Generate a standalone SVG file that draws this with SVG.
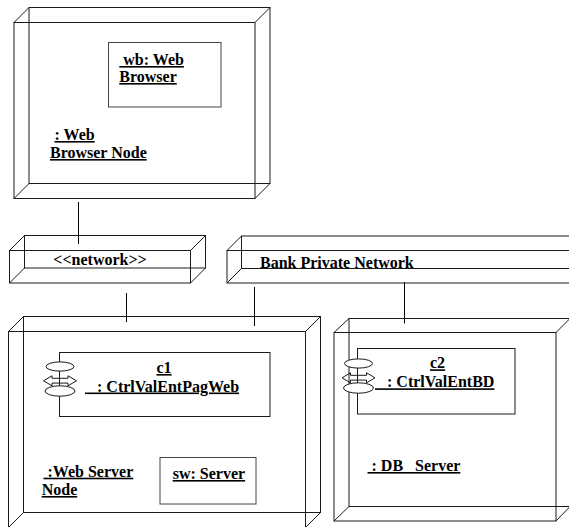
<svg xmlns="http://www.w3.org/2000/svg" xmlns:xlink="http://www.w3.org/1999/xlink" width="569" height="527" viewBox="0 0 569 527">
<style>
  .edge { fill: none; stroke: #1a1a1a; stroke-width: 1; }
  .inner { fill: none; stroke: #444; stroke-width: 1; }
  .conn { fill: none; stroke: #000; stroke-width: 1; }
  .lbl { font-family: "Liberation Serif", "Times New Roman", serif; font-weight: bold; font-size: 16px; fill: #000; }
  .u { text-decoration: underline; }
  .icon-fill { fill: #fff; stroke: #1a1a1a; stroke-width: 1; }
  .icon-line { fill: none; stroke: #1a1a1a; stroke-width: 1; }
</style>
<defs>
  <g id="compIcon">
    <ellipse class="icon-fill" cx="0" cy="0" rx="14" ry="4.6"/>
    <polygon class="icon-line" points="-16.5,14.3 -8,9.3 -8,11.8 8,11.8 8,9.3 16.5,14.3 8,19.3 8,16.6 -8,16.6 -8,19.3"/>
    <ellipse class="icon-fill" cx="0" cy="24.5" rx="15" ry="5.2"/>
  </g>
</defs>
<rect width="569" height="527" fill="#fff"/>

<g id="connectors">
  <line class="conn" x1="78.5" y1="202" x2="78.5" y2="244"/>
  <line class="conn" x1="126.5" y1="293" x2="126.5" y2="322"/>
  <line class="conn" x1="254.5" y1="287" x2="254.5" y2="326"/>
  <line class="conn" x1="404.5" y1="282" x2="404.5" y2="323.5"/>
</g>

<g id="webBrowserNode">
  <rect class="edge" x="29" y="7.5" width="241" height="176"/>
  <rect class="edge" x="14" y="22.5" width="241" height="176"/>
  <path class="edge" d="M14,22.5 L29,7.5 M255,22.5 L270,7.5 M14,198.5 L29,183.5 M255,198.5 L270,183.5"/>
  <text class="lbl u" x="54.5" y="140">: Web</text>
  <text class="lbl u" x="50" y="158">Browser Node</text>
</g>

<g id="wb">
  <rect class="inner" x="108.5" y="42.5" width="112.5" height="64.5"/>
  <text class="lbl u" x="119.3" y="65">&#160;wb: Web</text>
  <text class="lbl u" x="119.3" y="82">Browser</text>
</g>

<g id="network">
  <rect class="edge" x="24.5" y="235.5" width="181" height="32.5"/>
  <rect class="edge" x="9.5" y="250.5" width="181" height="32.5"/>
  <path class="edge" d="M9.5,250.5 L24.5,235.5 M190.5,250.5 L205.5,235.5 M9.5,283 L24.5,268 M190.5,283 L205.5,268"/>
  <text class="lbl" x="100" y="264.5" text-anchor="middle">&lt;&lt;network&gt;&gt;</text>
</g>

<g id="bankNetwork">
  <rect class="edge" x="241.5" y="236" width="400" height="32.5"/>
  <rect class="edge" x="227" y="250.5" width="400" height="32.5"/>
  <path class="edge" d="M227,250.5 L241.5,236 M227,283 L241.5,268.5"/>
  <text class="lbl" x="260" y="268">Bank Private Network</text>
</g>

<g id="webServerNode">
  <rect class="edge" x="23.5" y="316.5" width="297" height="196"/>
  <rect class="edge" x="8.5" y="331.5" width="297" height="196"/>
  <path class="edge" d="M8.5,331.5 L23.5,316.5 M305.5,331.5 L320.5,316.5 M8.5,527.5 L23.5,512.5 M305.5,527.5 L320.5,512.5"/>
  <text class="lbl u" x="43.5" y="476.7">&#160;:Web Server</text>
  <text class="lbl u" x="41.7" y="495">Node</text>
</g>

<g id="c1">
  <rect class="edge" x="59.5" y="352.5" width="210.5" height="64"/>
  <use xlink:href="#compIcon" href="#compIcon" x="60" y="366.5"/>
  <text class="lbl u" x="156.5" y="373">c1</text>
  <text class="lbl u" x="85" y="391.5">&#160;&#160;&#160;: CtrlValEntPagWeb</text>
</g>

<g id="sw">
  <rect class="inner" x="160" y="457.5" width="96" height="46.5"/>
  <text class="lbl u" x="172.7" y="479">sw: Server</text>
</g>

<g id="dbServerNode">
  <rect class="edge" x="349" y="318.5" width="221" height="188"/>
  <rect class="edge" x="334" y="332.5" width="222" height="188.5"/>
  <path class="edge" d="M334,332.5 L349,318.5 M556,332.5 L570,318.5 M334,521 L349,506.5 M556,521 L570,506.5"/>
  <text class="lbl u" x="367.5" y="471">&#160;: DB&#160;&#160;&#160;Server</text>
</g>

<g id="c2">
  <rect class="edge" x="357.5" y="348.5" width="157.5" height="65.5"/>
  <use xlink:href="#compIcon" href="#compIcon" x="358.5" y="363.5"/>
  <text class="lbl u" x="430" y="368.3">c2</text>
  <text class="lbl u" x="375" y="387.3">&#160;&#160;&#160;: CtrlValEntBD</text>
</g>
</svg>
